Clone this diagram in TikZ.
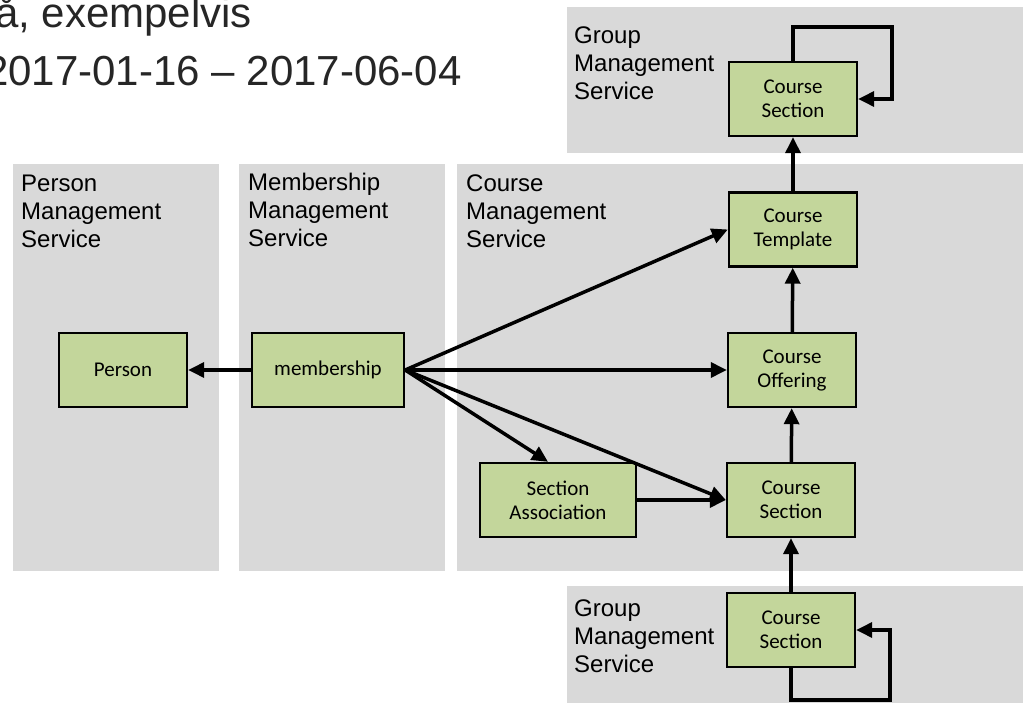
\documentclass[tikz,border=0pt]{standalone}
\usepackage{fontspec}
\setmainfont{Liberation Sans}
\newfontfamily\boxfont{Carlito}
\usetikzlibrary{arrows.meta,calc}

\definecolor{panelgrey}{RGB}{217,217,217}
\definecolor{entitygreen}{RGB}{195,214,155}
\definecolor{titlegrey}{RGB}{38,38,38}

\begin{document}
\begin{tikzpicture}[x=1pt,y=-1pt]
\tikzstyle{panel}=[fill=panelgrey]
\tikzstyle{entity}=[draw, line width=2.4pt, fill=entitygreen, minimum width=128pt, minimum height=74pt, inner sep=0pt, align=center, font=\boxfont\fontsize{21}{24}\selectfont]
\tikzstyle{svc}=[anchor=north west, inner sep=0pt, align=left, font=\fontsize{24}{28}\selectfont]
\tikzstyle{dep}=[line width=3.5pt, -{Triangle[length=16pt,width=15pt]}]
\useasboundingbox (0,0) rectangle (1023,703);
% service panels
\fill[panel] (13,164) rectangle (219,571);
\fill[panel] (239,164) rectangle (445,571);
\fill[panel] (457,164) rectangle (1023,571);
\fill[panel] (567,7) rectangle (1023,153);
\fill[panel] (567,586) rectangle (1023,703);
% title
\node[anchor=base west, inner sep=0pt, text=titlegrey, font=\fontsize{42}{50}\selectfont] (title1) at (-5,28) {å, exempelvis};
\node[anchor=base west, inner sep=0pt, text=titlegrey, font=\fontsize{42}{50}\selectfont] (title2) at (-15,86) {2017-01-16 – 2017-06-04};
% service names
\node[svc] (pmsLabel) at (21,175) {Person\\Management\\Service};
\node[svc] (mmsLabel) at (248,173) {Membership\\Management\\Service};
\node[svc] (cmsLabel) at (466,175) {Course\\Management\\Service};
\node[svc] (gmsTopLabel) at (574,27) {Group\\Management\\Service};
\node[svc] (gmsBotLabel) at (574,600) {Group\\Management\\Service};
% entities
\node[entity] (person) at (123,370) {Person};
\node[entity, minimum width=152pt] (membership) at (328,370) {membership};
\node[entity] (template) at (793,229.5) {Course\\Template};
\node[entity] (offering) at (792,370) {Course\\Offering};
\node[entity] (section) at (791,500) {Course\\Section};
\node[entity, minimum width=156pt] (association) at (558,500) {Section\\Association};
\node[entity] (groupTop) at (793,99) {Course\\Section};
\node[entity] (groupBot) at (791,630) {Course\\Section};
% references
\path (membership) edge[dep] (person);
\path (membership.east) edge[dep] (template.west);
\path (membership.east) edge[dep] (offering.west);
\path (membership.east) edge[dep] ([xshift=-10pt]association.north);
\path (membership.east) edge[dep] (section.west);
\path (association) edge[dep] (section);
\path (section) edge[dep] (offering);
\path (offering) edge[dep] (template);
\path (template) edge[dep] (groupTop);
\path (groupBot) edge[dep] (section);
\draw[dep] (groupTop.north) -- ++(0,-34) -| ($(groupTop.east)+(34,0)$) -- (groupTop.east);
\draw[dep] (groupBot.south) -- ++(0,32) -| ($(groupBot.east)+(34,0)$) -- (groupBot.east);
\end{tikzpicture}
\end{document}
